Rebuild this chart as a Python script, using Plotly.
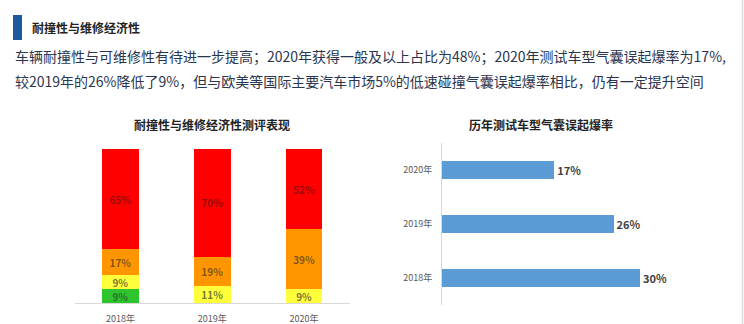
import plotly.graph_objects as go

# Left chart: share of tested models per rating, stacked per year
years = ["2018年", "2019年", "2020年"]
green_share = [9, 0, 0]
yellow_share = [9, 11, 9]
orange_share = [17, 19, 39]
red_share = [65, 70, 52]

# Right chart: airbag false-deployment rate per year
airbag_years = ["2018年", "2019年", "2020年"]
airbag_rate = [30, 26, 17]

W, H = 744, 324
FONT = "Noto Sans CJK SC"


def px_x(v):
    return v / W


def px_y(v):
    # pixel row measured from the top -> paper fraction from the bottom
    return 1 - v / H


def pct_labels(vals):
    return [f"{v}%" if v > 0 else "" for v in vals]


fig = go.Figure()

stack = [
    ("green", green_share, "#2ec42e", "rgba(40,40,40,0.55)"),
    ("yellow", yellow_share, "#ffff3c", "rgba(40,40,40,0.65)"),
    ("orange", orange_share, "#ff9600", "rgba(40,40,40,0.6)"),
    ("red", red_share, "#ff0000", "rgba(60,20,20,0.55)"),
]
for name, vals, color, tcolor in stack:
    fig.add_trace(go.Bar(
        x=years, y=vals, name=name, width=0.4,
        marker=dict(color=color, line=dict(width=0)),
        text=pct_labels(vals), textposition="inside",
        insidetextanchor="middle", constraintext="none",
        textfont=dict(family=FONT, size=10, color=tcolor, weight="bold"),
        xaxis="x", yaxis="y", hoverinfo="skip",
    ))

fig.add_trace(go.Bar(
    y=airbag_years, x=airbag_rate, orientation="h", width=0.35,
    marker=dict(color="#5b9bd5", line=dict(width=0)),
    text=[f"{v}%" for v in airbag_rate], textposition="outside",
    cliponaxis=False, constraintext="none",
    textfont=dict(family=FONT, size=11, color="#404040", weight="bold"),
    xaxis="x2", yaxis="y2", hoverinfo="skip",
))

fig.update_layout(
    width=W, height=H,
    margin=dict(l=0, r=0, t=0, b=0),
    paper_bgcolor="white", plot_bgcolor="rgba(0,0,0,0)",
    barmode="stack", showlegend=False,
    font=dict(family=FONT),
    xaxis=dict(
        domain=[px_x(74.5), px_x(350)], anchor="y",
        type="category", range=[-0.5, 2.5],
        showline=True, linecolor="#d9d9d9", linewidth=1,
        showgrid=False, zeroline=False, ticks="",
        tickfont=dict(family=FONT, size=9, color="#595959"),
        ticklabelstandoff=7,
    ),
    yaxis=dict(
        domain=[px_y(303), px_y(149)], anchor="x",
        range=[0, 100], visible=False,
    ),
    xaxis2=dict(
        domain=[px_x(442), px_x(706)], anchor="y2",
        range=[0, 40], visible=False,
    ),
    yaxis2=dict(
        domain=[px_y(305), px_y(143)], anchor="x2",
        type="category", categoryorder="array", categoryarray=airbag_years,
        range=[-0.5, 2.5],
        showline=True, linecolor="#d9d9d9", linewidth=1,
        showgrid=False, zeroline=False, ticks="",
        tickfont=dict(family=FONT, size=9, color="#595959"),
        ticklabelstandoff=7,
    ),
)

# header marker and page border
fig.add_shape(type="rect", xref="paper", yref="paper",
              x0=px_x(13), x1=px_x(22), y0=px_y(40), y1=px_y(15),
              fillcolor="#1c5a9e", line=dict(width=0))
fig.add_shape(type="line", xref="paper", yref="paper",
              x0=px_x(742.5), x1=px_x(742.5), y0=0, y1=1,
              line=dict(color="#dcdcdc", width=1.5))

text_color = "#2a3550"
annotations = [
    dict(x=px_x(30), y=px_y(27), text="<b>耐撞性与维修经济性</b>",
         xanchor="left", font=dict(size=12, color="#222222")),
    dict(x=px_x(13), y=px_y(56),
         text="车辆耐撞性与可维修性有待进一步提高；2020年获得一般及以上占比为48%；2020年测试车型气囊误起爆率为17%,",
         xanchor="left", font=dict(size=14, color=text_color)),
    dict(x=px_x(13), y=px_y(81),
         text="较2019年的26%降低了9%，但与欧美等国际主要汽车市场5%的低速碰撞气囊误起爆率相比，仍有一定提升空间",
         xanchor="left", font=dict(size=14, color=text_color)),
    dict(x=px_x(212), y=px_y(125), text="<b>耐撞性与维修经济性测评表现</b>",
         xanchor="center", font=dict(size=12, color="#222222")),
    dict(x=px_x(541), y=px_y(125), text="<b>历年测试车型气囊误起爆率</b>",
         xanchor="center", font=dict(size=12, color="#222222")),
]
for a in annotations:
    a.update(xref="paper", yref="paper", yanchor="middle", showarrow=False)
    a["font"]["family"] = FONT
    fig.add_annotation(**a)

fig.write_html("out.html")
